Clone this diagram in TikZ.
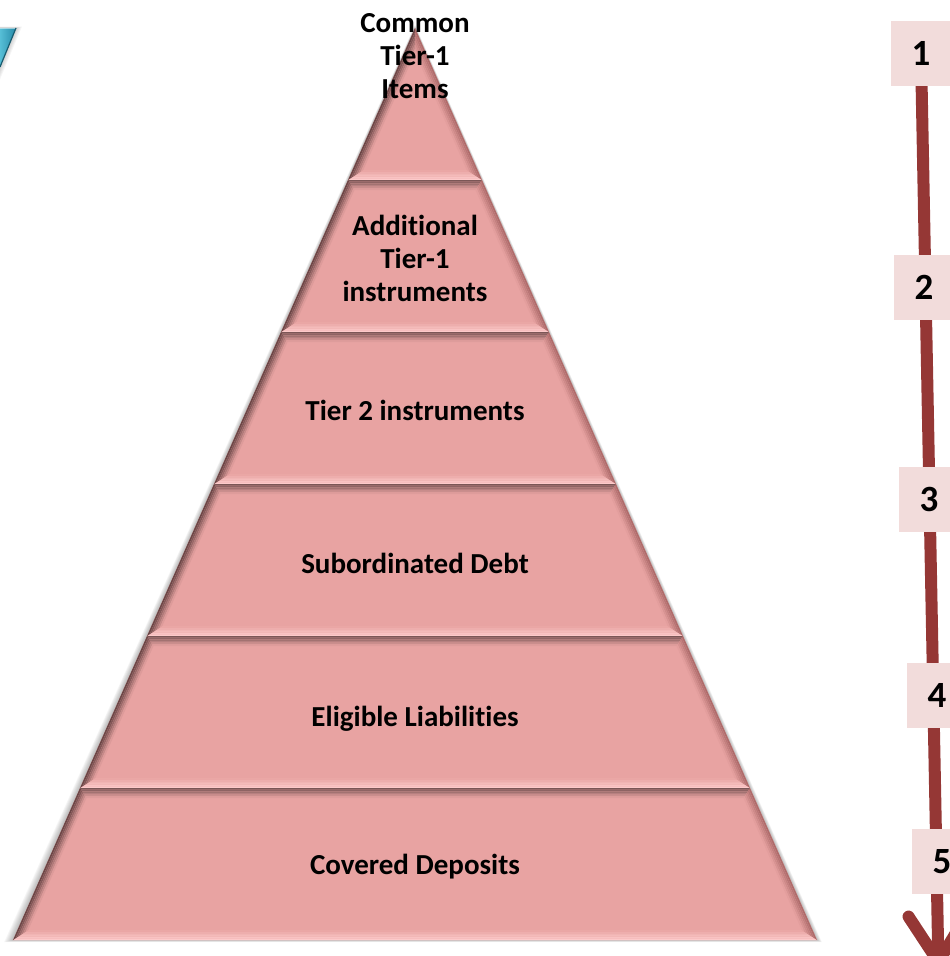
\documentclass[tikz,border=0pt]{standalone}
\usepackage{fontspec}
\setmainfont{Carlito}[Ligatures={NoCommon}]
\usetikzlibrary{arrows.meta,backgrounds}

\definecolor{bandbase}{RGB}{232,163,162}
\definecolor{bevdark}{RGB}{112,78,78}
\definecolor{bevlight}{RGB}{255,206,206}
\definecolor{bevleft}{RGB}{96,62,62}
\definecolor{bevright}{RGB}{168,102,102}
\definecolor{numfill}{RGB}{242,220,219}
\definecolor{arrowred}{RGB}{149,55,53}
\definecolor{tealA}{RGB}{86,190,214}
\definecolor{tealB}{RGB}{38,138,168}
\definecolor{tealedge}{RGB}{24,92,112}

\tikzset{
  lbl/.style={font=\bfseries\fontsize{29}{33}\selectfont, align=center, inner sep=0pt, text=black},
  numbox/.style={fill=numfill, minimum width=60pt, minimum height=65pt, inner sep=0pt,
                 font=\bfseries\fontsize{37}{40}\selectfont, text=black},
  flow/.style={arrowred, line width=12pt, -{Straight Barb[round,length=46pt,width=58pt]}}
}

% one bevelled layer of the pyramid, between heights #1 (top) and #2 (bottom)
\newcommand\pyrlayer[2]{%
  \pgfmathsetmacro\LxT{415-(#1-28)*0.440789}
  \pgfmathsetmacro\LxB{415-(#2-28)*0.440789}
  \pgfmathsetmacro\RxT{830-\LxT}
  \pgfmathsetmacro\RxB{830-\LxB}
  \fill[bandbase] (\LxT,#1) -- (\RxT,#1) -- (\RxB,#2) -- (\LxB,#2) -- cycle;
  \foreach \i in {0,...,5}{%
    \pgfmathsetmacro\fa{\i/6}
    \pgfmathsetmacro\fb{(\i+1)/6}
    \pgfmathtruncatemacro\pc{100*(1-(\i+0.5)/6)}
    \pgfmathsetmacro\Ta{max(#1+10*\fa,28+24.79*\fa)}
    \pgfmathsetmacro\Tb{max(#1+10*\fb,28+24.79*\fb)}
    \pgfmathsetmacro\Ba{#2-10*\fa}
    \pgfmathsetmacro\Bb{#2-10*\fb}
    \pgfmathsetmacro\LTa{415-(\Ta-28)*0.440789+10.928*\fa}
    \pgfmathsetmacro\LTb{415-(\Tb-28)*0.440789+10.928*\fb}
    \pgfmathsetmacro\LBa{415-(\Ba-28)*0.440789+10.928*\fa}
    \pgfmathsetmacro\LBb{415-(\Bb-28)*0.440789+10.928*\fb}
    \pgfmathsetmacro\RTa{830-\LTa}
    \pgfmathsetmacro\RTb{830-\LTb}
    \pgfmathsetmacro\RBa{830-\LBa}
    \pgfmathsetmacro\RBb{830-\LBb}
    \fill[bevdark!\pc!bandbase] (\LTa,\Ta) -- (\RTa,\Ta) -- (\RTb,\Tb) -- (\LTb,\Tb) -- cycle;
    \fill[bevlight!\pc!bandbase] (\LBa,\Ba) -- (\RBa,\Ba) -- (\RBb,\Bb) -- (\LBb,\Bb) -- cycle;
    \fill[bevleft!\pc!bandbase] (\LTa,\Ta) -- (\LTb,\Tb) -- (\LBb,\Bb) -- (\LBa,\Ba) -- cycle;
    \fill[bevright!\pc!bandbase] (\RTa,\Ta) -- (\RTb,\Tb) -- (\RBb,\Bb) -- (\RBa,\Ba) -- cycle;
  }%
}

\begin{document}
\begin{tikzpicture}[x=1pt,y=-1pt]
\useasboundingbox (0,0) rectangle (950,956);
\clip (0,0) rectangle (950,956);

% teal corner piece
\foreach \j in {1,...,5}
  \fill[black,opacity=0.04] (0,{28-0.3*\j}) -- ({16+1.2*\j},{28-0.3*\j}) -- (0,{67+2.5*\j}) -- cycle;
\shade[left color=tealA,right color=tealB] (0,28) -- (16,28) -- (0,67) -- cycle;
\draw[tealedge,line width=1.2pt] (16,28) -- (0,67);
\draw[white,opacity=0.5,line width=1pt] (0,28.6) -- (15,28.6);

% soft shadow behind the pyramid
\foreach \j in {1,...,8}
  \fill[black,opacity=0.035] (415,{28-0.4*\j}) -- ({817+0.6*\j},{940+0.25*\j}) -- ({13-1.1*\j},{940+0.25*\j}) -- cycle;

% pyramid layers
\pyrlayer{28}{180}
\pyrlayer{180}{332}
\pyrlayer{332}{484}
\pyrlayer{484}{636}
\pyrlayer{636}{788}
\pyrlayer{788}{940}

% layer labels
\node[lbl,anchor=north] (common) at (415,13) {Common\\Tier-1\\Items};
\node[lbl,anchor=north] (addl) at (415,215) {Additional\\Tier-1\\instruments};
\node[lbl,anchor=base] (tier2) at (415,420) {Tier 2 instruments};
\node[lbl,anchor=base] (subdebt) at (415,573) {Subordinated Debt};
\node[lbl,anchor=base] (elig) at (415,726) {Eligible Liabilities};
\node[lbl,anchor=base] (covered) at (415,874) {Covered Deposits};

% ranking boxes
\node[numbox] (n1) at (921,53.5) {1};
\node[numbox] (n2) at (924,287.5) {2};
\node[numbox] (n3) at (929,499.5) {3};
\node[numbox] (n4) at (937,695) {4};
\node[numbox] (n5) at (942,861.5) {5};
\coordinate (flowend) at (938.5,968);

\begin{scope}[on background layer]
  \draw[flow] (n1.center) -- (flowend);
\end{scope}
\end{tikzpicture}
\end{document}
